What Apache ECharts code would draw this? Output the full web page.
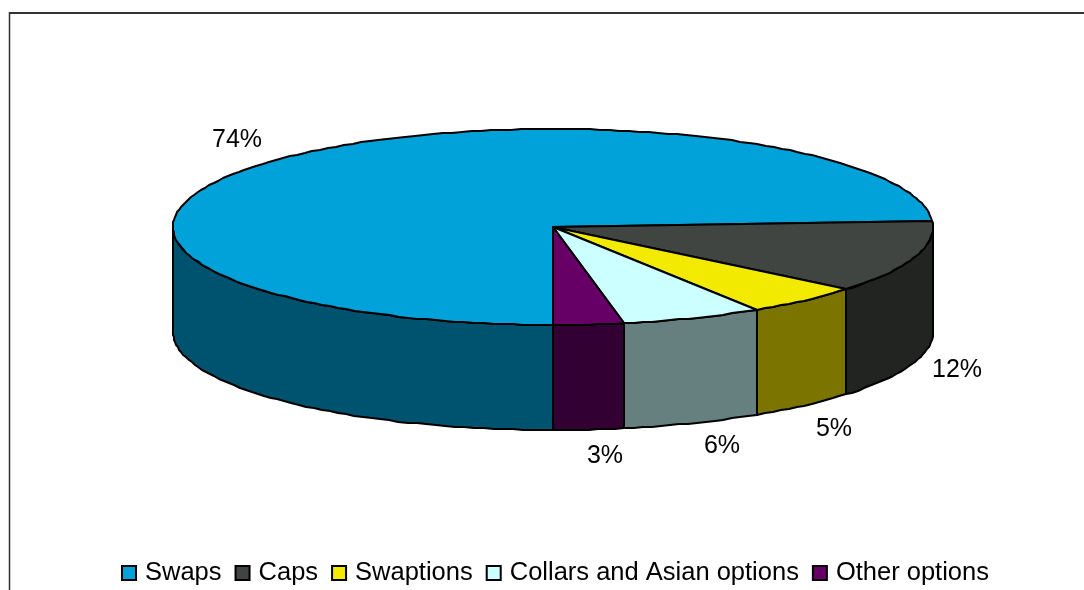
<!DOCTYPE html>
<html><head><meta charset="utf-8">
<style>html,body{margin:0;padding:0;background:#fff}#c{width:1084px;height:590px}</style>
<script src="https://cdn.jsdelivr.net/npm/echarts@6/dist/echarts.min.js"></script>
</head><body><div id="c"></div>
<script>
const categories = ['Swaps', 'Caps', 'Swaptions', 'Collars and Asian options', 'Other options'];
const shares = [74, 12, 5, 6, 3];
const topColors = ['#00A2D9', '#414541', '#F2EA00', '#CCFFFF', '#660066'];
const wallColors = ['#00536E', '#212420', '#7B7400', '#668080', '#330033'];

// Layout of the tilted pie
const CX = 553, CY = 227, RX = 380, RY = 98, DEPTH = 105, START = 180;
const LABEL_OFFSETS = [[-39, -20], [43, 113], [30, 128], [29, 128], [16, 131]];

const total = shares.reduce((a, b) => a + b, 0);
function pt(deg, dy) {
  const r = deg * Math.PI / 180;
  return [Math.round(CX + RX * Math.sin(r)), Math.round(CY - RY * Math.cos(r) + (dy || 0))];
}
function arc(a, b, dy) {
  const out = [], n = Math.max(2, Math.ceil(Math.abs(b - a) / 1.5));
  for (let i = 0; i <= n; i++) out.push(pt(a + (b - a) * i / n, dy));
  return out;
}
const stroke = { stroke: '#000', lineWidth: 2, lineJoin: 'round' };

function makeRender(idx) {
  return function () {
    let before = 0;
    for (let i = 0; i < idx; i++) before += shares[i];
    const a0 = START + before / total * 360;
    const a1 = a0 + shares[idx] / total * 360;
    const children = [];
    // front wall is visible only between 90 and 270 degrees (mod 360)
    [[90, 270], [450, 630]].forEach(function (w) {
      const s = Math.max(a0, w[0]), e = Math.min(a1, w[1]);
      if (e > s) {
        const pts = arc(s, e, 0).concat(arc(e, s, DEPTH));
        children.push({ type: 'polygon', shape: { points: pts },
          style: Object.assign({ fill: wallColors[idx] }, stroke) });
      }
    });
    const top = [[CX, CY]].concat(arc(a0, a1, 0));
    children.push({ type: 'polygon', shape: { points: top },
      style: Object.assign({ fill: topColors[idx] }, stroke) });
    const m = pt((a0 + a1) / 2, 0);
    const off = LABEL_OFFSETS[idx];
    children.push({ type: 'text', x: m[0] + off[0], y: m[1] + off[1], z2: 50,
      style: { text: shares[idx] + '%', fill: '#000', align: 'center', verticalAlign: 'middle',
        font: '25px "Liberation Sans", Arial, sans-serif' } });
    return { type: 'group', children: children };
  };
}

const chart = echarts.init(document.getElementById('c'), null, { renderer: 'canvas' });
chart.setOption({
  animation: false,
  backgroundColor: '#fff',
  legend: {
    data: categories,
    orient: 'horizontal',
    left: 116, top: 555,
    icon: 'rect', itemWidth: 14, itemHeight: 14, itemGap: 13,
    selectedMode: false,
    itemStyle: { borderColor: '#000', borderWidth: 2 },
    textStyle: { fontFamily: 'Liberation Sans', fontSize: 25.5, color: '#000', padding: [0, 0, 0, 4] }
  },
  graphic: [
    { type: 'line', silent: true, shape: { x1: 9, y1: 13, x2: 1084, y2: 13 },
      style: { stroke: '#333', lineWidth: 2 } },
    { type: 'line', silent: true, shape: { x1: 9.5, y1: 12, x2: 9.5, y2: 590 },
      style: { stroke: '#333', lineWidth: 1.5 } }
  ],
  series: categories.map(function (name, i) {
    return {
      type: 'custom', name: name, coordinateSystem: 'none',
      data: [shares[i]],
      renderItem: makeRender(i),
      itemStyle: { color: topColors[i] },
      silent: true
    };
  })
});
</script></body></html>
